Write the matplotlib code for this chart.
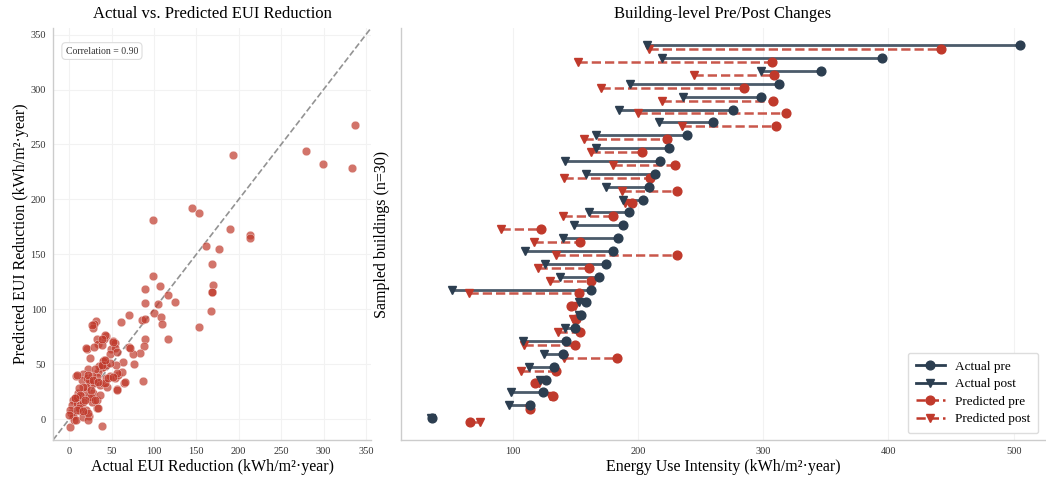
import matplotlib
matplotlib.use("Agg")
import matplotlib.pyplot as plt
from matplotlib.lines import Line2D
import numpy as np

plt.rcParams['font.family'] = ['Liberation Serif', 'DejaVu Serif']

# scatter: actual vs predicted EUI reduction (kWh/m2/year)
actual_red = [337, 279, 299, 333, 193, 145, 153.5, 99, 190, 213.5, 213.5, 161, 177, 169, 170,
              169, 168.5, 167, 153, 99, 107, 90, 117, 90, 105, 125, 100, 108, 110, 116,
              70, 61.5, 85.5, 89.5, 90, 88, 83.5, 87.5, 76, 75, 71, 72, 63, 65, 57, 39, 1,
              32, 29.6, 28.4, 26.8, 43.4, 41.4, 32.4, 33.5, 21.3, 19.7, 24.5, 29.2, 38.3,
              51.3, 54, 49.3, 54, 48.1, 41.4, 37.5, 40.3, 34.3, 32.4, 22.5, 7.9, 16.6, 14.6,
              21.3, 24.5, 29.6, 36.3, 40.3, 45, 43.4, 48.1, 54, 58, 62, 55.2, 56.8, 28.4,
              23.7, 19.7, 13.4, 10.7, 6.7, 4, 2.8, 2, 4, 5.5, 7.9, 12.6, 16.6, 23.7, 22.5,
              32.4, 34.3, 26.4, 25.3, 9.5, 12.6, 16.6, 19.7, 40.3, 43.4, 35.1, 30.4, 26.4,
              23.7, 19.7, 15.8, 11.8, 9.5, 0.8, -0.4, 11.8,
              42.2, 38.3, 22.5, 52.1, 56, 42.2, 48.1, 38.3, 8.7, 22.5, 28.4, 34.3, 42.2,
              46.1, 52.1, 65.9, 56, 12.6, 18.5, 8.7, 16.6, 32.3, 6.7, 36.3, 30.3, 25.7]
pred_red = [268, 244, 232, 229, 240, 192.5, 188, 181, 173.5, 168, 165, 157.5, 154.5, 141, 122,
            116, 115.5, 98, 84, 130, 121, 118, 113, 106, 105, 107, 97, 93, 87, 72.5,
            94.5, 88, 90.5, 91.5, 73, 66.5, 60, 35, 50, 59, 66, 64.5, 52, 33, 27.5, -6, -7,
            89.5, 87, 82.5, 85.5, 75.6, 72.5, 72.5, 68.6, 63.8, 65, 55.3, 66, 67.4,
            71.3, 69, 63.5, 64.4, 59.2, 53.8, 46.2, 47.7, 43.2, 38.7, 45.3, 39.6, 40.8, 35.7,
            37.2, 32.6, 32.6, 31.1, 33.2, 29.6, 37.2, 39.3, 37.2, 40.2, 43.2, 49.3, 41.7, 23.6,
            19, 25, 21.2, 23.6, 19, 17.5, 13, 5.4, 3, -1.2, -1.2, 7, 2.4, 3, -1.2,
            10, 10, 16, 20.5, 14.5, 13, 16, 8.5, 53, 49.3, 48.7, 45.3, 39.3,
            35.7, 29.6, 29.6, 28.1, 20.5, 8.5, 4, 10,
            76.4, 73.3, 40.2, 70.4, 61.4, 32.7, 50.8, 49.3, 8.5, 5.5, 35.7, 34.2, 53.8,
            37.2, 38.7, 34.2, 26.6, 22.1, 17.6, 40.2, 7, 17.6, 19.1, 22.1, 17.6, 26.6]

# building-level pre/post EUI (kWh/m2/year), sorted by actual pre (top to bottom)
actual_pre = [505, 395, 346, 313, 298, 276, 260, 239, 225, 218, 214, 209, 204, 193, 188,
              184, 180, 175, 169, 163, 159, 155, 150, 143, 140, 133, 127, 124, 114, 36]
actual_post = [207, 219, 298, 194, 236, 185, 217, 167, 167, 142, 159, 175, 188, 161, 149,
               140, 110, 126, 138, 52, 153, 153, 142, 108, 125, 113, 122, 99, 97, 35]
pred_pre = [442, 307, 309, 285, 308, 318, 310, 223, 203, 230, 210, 231, 195, 180, 123,
            154, 231, 161, 163, 153, 147, 151, 154, 150, 183, 135, 118, 132, 114, 66]
pred_post = [209, 152, 245, 171, 219, 200, 235, 157, 163, 180, 141, 187, 190, 140, 91,
             117, 135, 120, 130, 65, 150, 148, 136, 109, 141, 107, 121, 130, 113, 74]

navy = '#2c3e50'
red = '#c0392b'
spine_c = '#cccccc'
grid_c = '#f2f2f2'

fig = plt.figure(figsize=(10.46, 4.83), dpi=100)
ax1 = fig.add_axes([0.0507, 0.089, 0.304, 0.853])
ax2 = fig.add_axes([0.3834, 0.089, 0.6156, 0.853])

for ax in (ax1, ax2):
    ax.set_facecolor('white')
    for s in ('top', 'right'):
        ax.spines[s].set_visible(False)
    for s in ('left', 'bottom'):
        ax.spines[s].set_color(spine_c)
        ax.spines[s].set_linewidth(1.0)
    ax.tick_params(length=0, labelsize=7.5, colors='#333333', pad=5)
    ax.grid(True, color=grid_c, linewidth=0.8)
    ax.set_axisbelow(True)

# left: scatter
lims = (-19, 356)
ax1.scatter(actual_red, pred_red, s=38, color=red, alpha=0.7, edgecolors='white',
            linewidths=0.3, zorder=3)
ax1.plot(lims, lims, '--', color='gray', linewidth=1.2, alpha=0.85, zorder=2)
ax1.set_xlim(lims)
ax1.set_ylim(lims)
ax1.set_xticks(np.arange(0, 351, 50))
ax1.set_yticks(np.arange(0, 351, 50))
ax1.set_title('Actual vs. Predicted EUI Reduction', fontsize=12, pad=7)
ax1.set_xlabel('Actual EUI Reduction (kWh/m²·year)', fontsize=11.5, labelpad=2)
ax1.set_ylabel('Predicted EUI Reduction (kWh/m²·year)', fontsize=11.5, labelpad=1)
ax1.text(0.04, 0.955, 'Correlation = 0.90', transform=ax1.transAxes, fontsize=7,
         va='top', ha='left', color='#333333',
         bbox=dict(boxstyle='round,pad=0.4', facecolor='white', edgecolor='#dddddd',
                   linewidth=0.8))

# right: dumbbell
n = len(actual_pre)
ypos = np.arange(n)[::-1]
off = 0.15
for i in range(n):
    ax2.plot([actual_post[i], actual_pre[i]], [ypos[i] + off] * 2, '-', color=navy,
             linewidth=2, alpha=0.85, zorder=2)
    ax2.plot([pred_post[i], pred_pre[i]], [ypos[i] - off] * 2, '--', color=red,
             linewidth=1.8, alpha=0.85, zorder=2)
ax2.plot(actual_pre, ypos + off, 'o', color=navy, markersize=6.3, zorder=4)
ax2.plot(actual_post, ypos + off, 'v', color=navy, markersize=5.3, zorder=4)
ax2.plot(pred_pre, ypos - off, 'o', color=red, markersize=6.3, zorder=3)
ax2.plot(pred_post, ypos - off, 'v', color=red, markersize=5.3, zorder=3)

ax2.set_xlim(11, 525)
ax2.set_ylim(-1.55, 30.5)
ax2.set_yticks([])
ax2.set_xticks([100, 200, 300, 400, 500])
ax2.set_title('Building-level Pre/Post Changes', fontsize=12, pad=7)
ax2.set_xlabel('Energy Use Intensity (kWh/m²·year)', fontsize=11.5, labelpad=2)
ax2.set_ylabel('Sampled buildings (n=30)', fontsize=11.5, labelpad=8)

handles = [
    Line2D([], [], color=navy, linestyle='-', linewidth=2, marker='o', markersize=6.3),
    Line2D([], [], color=navy, linestyle='-', linewidth=2, marker='v', markersize=5.3),
    Line2D([], [], color=red, linestyle='--', linewidth=1.8, marker='o', markersize=6.3),
    Line2D([], [], color=red, linestyle='--', linewidth=1.8, marker='v', markersize=5.3),
]
ax2.legend(handles, ['Actual pre', 'Actual post', 'Predicted pre', 'Predicted post'],
           loc='lower right', fontsize=9.5, frameon=True, fancybox=True,
           edgecolor='#dddddd', framealpha=1, borderpad=0.6, handlelength=2.2,
           labelspacing=0.4)

fig.savefig('out.png', dpi=100, facecolor='white')
